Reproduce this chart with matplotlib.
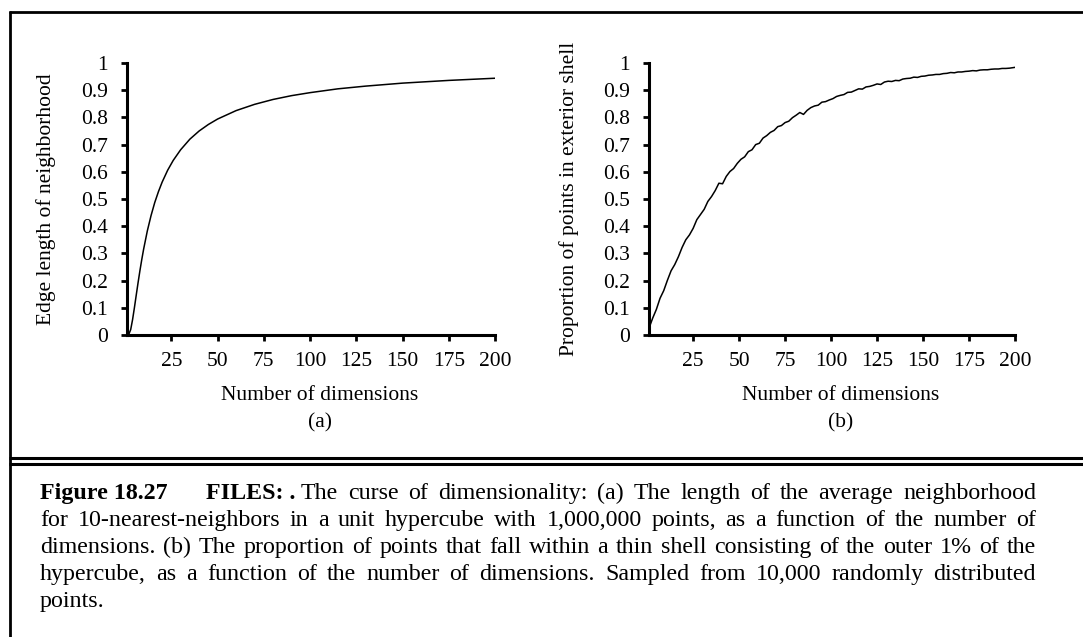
import matplotlib
matplotlib.use("Agg")
import matplotlib.pyplot as plt
from matplotlib.lines import Line2D

plt.rcParams['font.family'] = ['Liberation Serif', 'DejaVu Serif']

W, H = 1083, 637
DPI = 100

# ---------------- data ----------------
dims_a = [1, 2, 3, 4, 5, 6, 7, 8, 9, 10, 12, 14, 16, 18, 20, 23, 26, 30, 35, 40,
          45, 50, 60, 70, 80, 90, 100, 115, 130, 150, 175, 200]
edge_len = [0.000, 0.003, 0.020, 0.056, 0.100, 0.147, 0.193, 0.237, 0.278, 0.316,
            0.383, 0.439, 0.487, 0.527, 0.562, 0.606, 0.642, 0.681, 0.720, 0.750,
            0.774, 0.794, 0.825, 0.848, 0.866, 0.880, 0.891, 0.905, 0.915, 0.926,
            0.936, 0.944]

dims_b = list(range(1, 200, 2)) + [200]
shell_prop = [
    0.025, 0.062, 0.094, 0.135, 0.163, 0.201, 0.236, 0.259, 0.288, 0.322,
    0.350, 0.368, 0.392, 0.424, 0.443, 0.462, 0.491, 0.509, 0.531, 0.558,
    0.556, 0.583, 0.601, 0.612, 0.631, 0.646, 0.655, 0.674, 0.681, 0.700,
    0.705, 0.724, 0.733, 0.745, 0.752, 0.766, 0.770, 0.781, 0.786, 0.799,
    0.808, 0.818, 0.811, 0.826, 0.836, 0.842, 0.845, 0.856, 0.858, 0.864,
    0.869, 0.877, 0.881, 0.884, 0.892, 0.893, 0.899, 0.905, 0.904, 0.912,
    0.914, 0.918, 0.923, 0.921, 0.930, 0.933, 0.932, 0.936, 0.935, 0.941,
    0.943, 0.944, 0.948, 0.947, 0.951, 0.952, 0.955, 0.956, 0.958, 0.958,
    0.961, 0.962, 0.965, 0.964, 0.967, 0.967, 0.969, 0.970, 0.972, 0.971,
    0.974, 0.975, 0.975, 0.977, 0.978, 0.978, 0.980, 0.980, 0.981, 0.983,
    0.984]

x_ticks = [25, 50, 75, 100, 125, 150, 175, 200]
y_ticks = [0, 0.1, 0.2, 0.3, 0.4, 0.5, 0.6, 0.7, 0.8, 0.9, 1]
y_tick_labels = ["0", "0.1", "0.2", "0.3", "0.4", "0.5", "0.6", "0.7", "0.8", "0.9", "1"]

ylabel_a = "Edge length of neighborhood"
ylabel_b = "Proportion of points in exterior shell"
xlabel = "Number of dimensions"

cap_lead = "Figure 18.27"
cap_files = "FILES: ."
cap_lines = [
    "The curse of dimensionality: (a) The length of the average neighborhood",
    "for 10-nearest-neighbors in a unit hypercube with 1,000,000 points, as a function of the number of",
    "dimensions. (b) The proportion of points that fall within a thin shell consisting of the outer 1% of the",
    "hypercube, as a function of the number of dimensions.  Sampled from 10,000 randomly distributed",
    "points.",
]

# ---------------- figure ----------------
fig = plt.figure(figsize=(W / DPI, H / DPI), dpi=DPI)


def fx(px):
    return px / W


def fy(py):
    return 1 - py / H


FS = 15.5


def make_axes(x0, x1, y_top, y_bot, xs, ys, ylabel, ylab_x, sub, lab_cx):
    ax = fig.add_axes([fx(x0), fy(y_bot), fx(x1) - fx(x0), fy(y_top) - fy(y_bot)])
    ax.plot(xs, ys, color='black', lw=1.1)
    ax.set_xlim(1, 200)
    ax.set_ylim(0, 1)
    for s in ['top', 'right']:
        ax.spines[s].set_visible(False)
    for s in ['left', 'bottom']:
        ax.spines[s].set_linewidth(2.2)
        ax.spines[s].set_capstyle('projecting')
    ax.set_xticks(x_ticks)
    ax.set_yticks(y_ticks)
    ax.set_yticklabels(y_tick_labels)
    ax.tick_params(axis='both', direction='out', length=4.5, width=2.0,
                   labelsize=FS)
    ax.tick_params(axis='y', pad=9)
    ax.tick_params(axis='x', pad=8)
    fig.text(fx(ylab_x), fy((y_top + y_bot) / 2), ylabel, rotation=90,
             ha='center', va='center', fontsize=FS)
    fig.text(fx(lab_cx), fy(395), xlabel, ha='center', va='center', fontsize=FS)
    fig.text(fx(lab_cx), fy(423), sub, ha='center', va='center', fontsize=FS)
    return ax


make_axes(127, 495, 63, 335, dims_a, edge_len, ylabel_a, 46, "(a)", 320)
make_axes(649, 1015, 63, 335, dims_b, shell_prop, ylabel_b, 569, "(b)", 841)


# ---------------- frame ----------------
def hline(y, x0, x1, lw=2.0):
    fig.add_artist(Line2D([fx(x0), fx(x1)], [fy(y), fy(y)], color='black', lw=lw,
                          transform=fig.transFigure, solid_capstyle='butt'))


def vline(x, y0, y1, lw=2.0):
    fig.add_artist(Line2D([fx(x), fx(x)], [fy(y0), fy(y1)], color='black', lw=lw,
                          transform=fig.transFigure, solid_capstyle='butt'))


hline(11.5, 8.5, W)
vline(9.8, 10.5, H)
hline(458, 8.5, W, lw=2.2)
hline(464, 8.5, W, lw=2.2)

# ---------------- caption (justified) ----------------
LEFT, RIGHT = 40, 1036
cap_base = [499, 526, 553, 580, 607]   # baselines in pixels from top

fig.canvas.draw()
renderer = fig.canvas.get_renderer()


def width_of(txt, size, weight='normal'):
    t = fig.text(0, 0, txt, fontsize=size, fontweight=weight)
    bb = t.get_window_extent(renderer)
    t.remove()
    return bb.width


# caption size chosen so the widest full line nearly fills the text width
ref_w = max(width_of(l, 10) for l in cap_lines[1:4])
CFS = 10 * (RIGHT - LEFT) * 0.975 / ref_w


def put(x, y, txt, weight='normal'):
    fig.text(fx(x), fy(y), txt, fontsize=CFS, fontweight=weight,
             ha='left', va='baseline')


def justify(words, x_start, x_end, y, justify_line=True):
    widths = [width_of(w, CFS) for w in words]
    if justify_line and len(words) > 1:
        gap = (x_end - x_start - sum(widths)) / (len(words) - 1)
    else:
        gap = width_of("a b", CFS) - width_of("a", CFS) - width_of("b", CFS)
    x = x_start
    for w, wd in zip(words, widths):
        put(x, y, w)
        x += wd + gap


put(LEFT, cap_base[0], cap_lead, 'bold')
files_x = LEFT + width_of(cap_lead, CFS, 'bold') + 38
put(files_x, cap_base[0], cap_files, 'bold')
rest_x = files_x + width_of(cap_files, CFS, 'bold') + 6
justify(cap_lines[0].split(), rest_x, RIGHT, cap_base[0])
for i in range(1, 4):
    justify(cap_lines[i].split(), LEFT, RIGHT, cap_base[i])
justify(cap_lines[4].split(), LEFT, RIGHT, cap_base[4], justify_line=False)

fig.savefig("out.png", dpi=DPI)
